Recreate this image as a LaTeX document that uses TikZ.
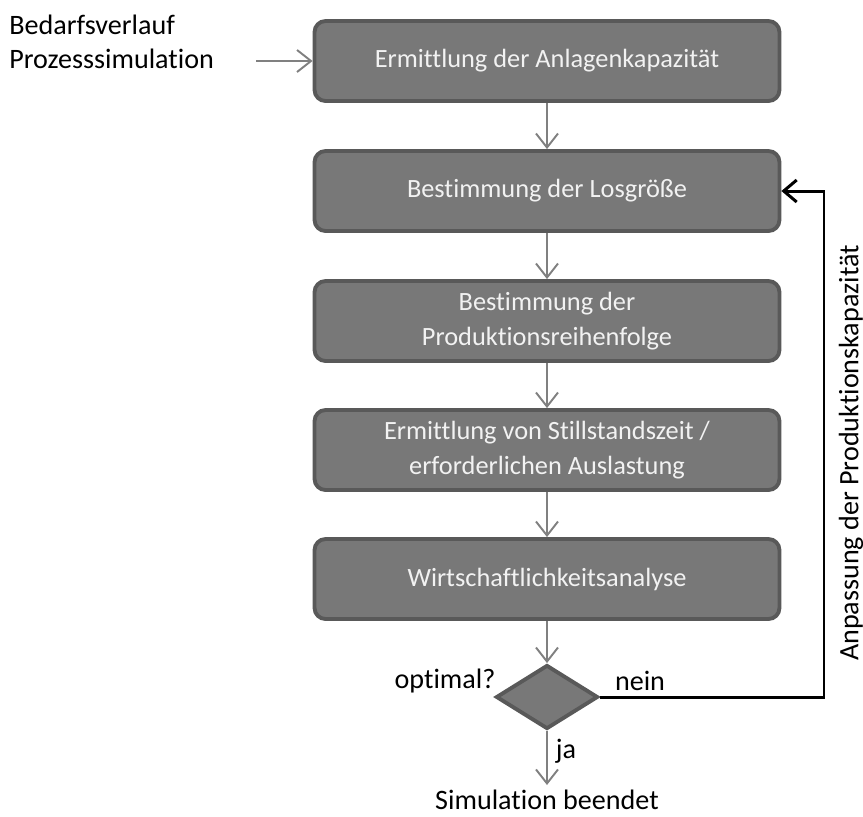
\documentclass[tikz,border=0pt]{standalone}
\usepackage{fontspec}
\setmainfont{Carlito}[Ligatures=CommonOff]
\usetikzlibrary{shapes.geometric,arrows.meta}
\definecolor{boxfill}{RGB}{120,120,120}
\definecolor{boxline}{RGB}{89,89,89}
\definecolor{boxtext}{RGB}{242,242,242}
\definecolor{flowgray}{RGB}{128,128,128}

\begin{document}
\begin{tikzpicture}[x=0.02cm, y=-0.02cm,
		stage/.style={draw=boxline, fill=boxfill, line width=2.2pt, rounded corners=0.22cm, minimum width=9.3cm, minimum height=1.6cm, text=boxtext, align=center, font=\fontsize{15}{20}\selectfont},
		check/.style={diamond, draw=boxline, fill=boxfill, line width=2.2pt, minimum width=2.04cm, minimum height=1.28cm, inner sep=0pt},
		flow/.style={draw=flowgray, line width=1.1pt, -{Straight Barb[length=0.28cm, width=0.44cm]}},
		back/.style={draw=black, line width=1.7pt, -{Straight Barb[length=0.26cm, width=0.44cm]}},
		remark/.style={font=\fontsize{16}{19}\selectfont}]
		\useasboundingbox (0,0) rectangle (863,816);

		\node[remark, align=left, anchor=north west, inner sep=0pt] (src) at (9,15) {Bedarfsverlauf\\Prozesssimulation};
		\coordinate (srcend) at (256,61);

		\node[stage] (b1) at (547,61) {Ermittlung der Anlagenkapazität};
		\node[stage] (b2) at (547,191) {Bestimmung der Losgröße};
		\node[stage] (b3) at (547,321) {Bestimmung der\\Produktionsreihenfolge};
		\node[stage] (b4) at (547,450) {Ermittlung von Stillstandszeit /\\erforderlichen Auslastung};
		\node[stage] (b5) at (547,579) {Wirtschaftlichkeitsanalyse};
		\node[check] (dec) at (547,697) {};
		\node[remark, anchor=north, inner sep=0.1cm] (sim) at (547,785) {Simulation beendet};

		\node[remark] (opt) at (445,681) {optimal?};
		\node[remark] (no) at (640,681) {nein};
		\node[remark] (yes) at (566,751) {ja};
		\node[remark, rotate=90] (side) at (851,453) {Anpassung der Produktionskapazität};
		\coordinate (turn) at (824,697);

		\draw[flow] (srcend) -- (b1);
		\draw[flow] (b1) -- (b2);
		\draw[flow] (b2) -- (b3);
		\draw[flow] (b3) -- (b4);
		\draw[flow] (b4) -- (b5);
		\draw[flow] (b5) -- (dec);
		\draw[flow] (dec) -- (sim);
		\draw[back] (dec.east) -- (turn) |- (b2.east);
	\end{tikzpicture}
\end{document}
